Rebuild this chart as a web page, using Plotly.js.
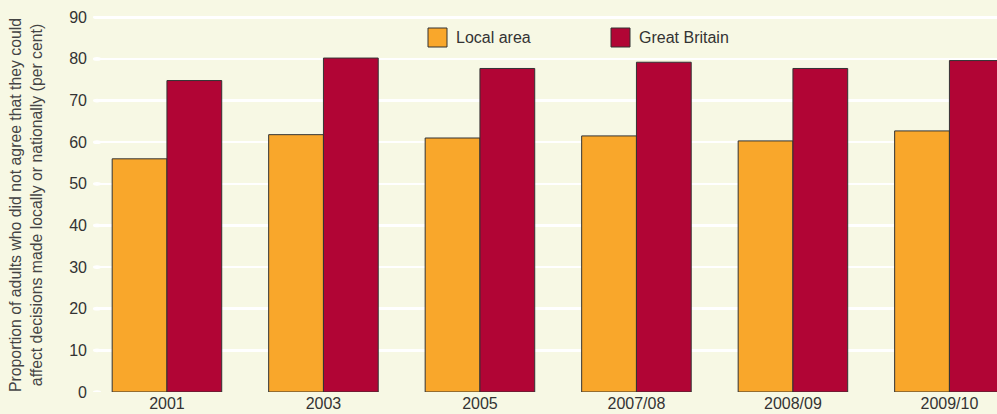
<!DOCTYPE html>
<html><head><meta charset="utf-8">
<script src="https://cdn.plot.ly/plotly-3.0.1.min.js"></script>
<style>html,body{margin:0;padding:0;background:#f7f8e4;}</style>
</head><body>
<div id="chart" style="width:997px;height:414px;"></div>
<script>
const categories = ["2001", "2003", "2005", "2007/08", "2008/09", "2009/10"];
const localArea = [56.0, 61.8, 61.0, 61.5, 60.3, 62.7];
const greatBritain = [74.8, 80.2, 77.7, 79.2, 77.7, 79.6];
const yTicks = [0, 10, 20, 30, 40, 50, 60, 70, 80, 90];
const seriesNames = ["Local area", "Great Britain"];
const colors = ["#f9a72b", "#b10535"];
const FONT = "Liberation Sans, Arial, sans-serif";

const traces = [
  {type: "bar", name: seriesNames[0], x: categories, y: localArea,
   marker: {color: colors[0], line: {color: "#333333", width: 1}}, showlegend: false, hoverinfo: "none"},
  {type: "bar", name: seriesNames[1], x: categories, y: greatBritain,
   marker: {color: colors[1], line: {color: "#333333", width: 1}}, showlegend: false, hoverinfo: "none"}
];

const shapes = yTicks.map(v => ({
  type: "circle", xref: "paper", yref: "y", layer: "below",
  x0: -0.0045, x1: 0.0045, y0: v - 0.45, y1: v + 0.45,
  fillcolor: "#ffffff", line: {width: 0}
}));
// legend swatches
shapes.push({type: "rect", xref: "paper", yref: "paper", x0: (428-97)/900, x1: (447-97)/900, y0: (392-47)/376, y1: (392-28)/376,
  fillcolor: colors[0], line: {color: "#333333", width: 1}});
shapes.push({type: "rect", xref: "paper", yref: "paper", x0: (611-97)/900, x1: (630-97)/900, y0: (392-47)/376, y1: (392-28)/376,
  fillcolor: colors[1], line: {color: "#333333", width: 1}});

const annotations = [
  {xref: "paper", yref: "paper", x: (26-97)/900, y: (392-205)/376, xanchor: "center", yanchor: "middle",
   textangle: -90, showarrow: false,
   text: "Proportion of adults who did not agree that they could<br>affect decisions made locally or nationally (per cent)",
   font: {family: FONT, size: 15.8, color: "#444444"}},
  {xref: "paper", yref: "paper", x: (454-97)/900, y: (392-38)/376, xanchor: "left", yanchor: "middle",
   showarrow: false, text: seriesNames[0], font: {family: FONT, size: 16, color: "#333333"}},
  {xref: "paper", yref: "paper", x: (637-97)/900, y: (392-38)/376, xanchor: "left", yanchor: "middle",
   showarrow: false, text: seriesNames[1], font: {family: FONT, size: 16, color: "#333333"}}
];

const layout = {
  width: 997, height: 414,
  margin: {l: 97, r: 0, t: 16, b: 22},
  paper_bgcolor: "#f7f8e4", plot_bgcolor: "#f7f8e4",
  barmode: "group", bargap: 0.3, bargroupgap: 0,
  showlegend: false,
  font: {family: FONT, size: 16, color: "#333333"},
  xaxis: {type: "category", range: [-0.447, 5.304], showgrid: false, zeroline: false, showline: false,
    ticks: "", tickfont: {size: 16, color: "#333333"}, ticklabelstandoff: 0, fixedrange: true},
  yaxis: {range: [0, 90.3], tickvals: yTicks, showgrid: true, gridcolor: "#ffffff", gridwidth: 2.5,
    zeroline: false, showline: false, ticks: "", ticklabelstandoff: 9,
    tickfont: {size: 16, color: "#333333"}, fixedrange: true},
  shapes: shapes,
  annotations: annotations
};

Plotly.newPlot("chart", traces, layout, {displayModeBar: false, staticPlot: true});
</script>
</body></html>
